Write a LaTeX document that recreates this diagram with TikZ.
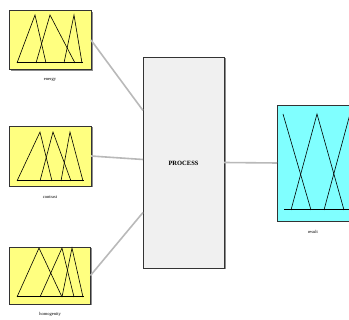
\documentclass[tikz,border=0pt]{standalone}
\usepackage{fontspec}
\setmainfont{Liberation Serif}
\usetikzlibrary{shadows}
\definecolor{mfyellow}{RGB}{255,255,128}
\definecolor{mfcyan}{RGB}{128,255,255}
\definecolor{procgray}{RGB}{240,240,240}
\definecolor{wiregray}{RGB}{185,185,185}
\tikzset{
  varbox/.style={draw=black!80, line width=0.7pt, inner sep=0pt, outer sep=0pt,
    drop shadow={shadow xshift=1.5pt, shadow yshift=-1.5pt, fill=black!45, opacity=1}},
  varlabel/.style={font=\fontsize{4.5}{5}\selectfont, inner sep=0pt},
  wire/.style={draw=wiregray, line width=1.6pt},
  mf/.style={line width=0.6pt},
  mfbase/.style={line width=1pt}
}
\begin{document}
\begin{tikzpicture}[x=1pt,y=-1pt]
    \useasboundingbox (0,0) rectangle (349,320);
    \begin{scope}
        \clip (0,0) rectangle (349,320);
        \node [varbox, fill=mfyellow, minimum width=82pt, minimum height=59pt] (energy) at (50,40) {};
        \node [varbox, fill=mfyellow, minimum width=82pt, minimum height=60pt] (contrast) at (50,156) {};
        \node [varbox, fill=mfyellow, minimum width=81pt, minimum height=57pt] (homog) at (50,275.5) {};
        \node [varbox, fill=procgray, minimum width=81pt, minimum height=211pt] (proc) at (183.5,162.5) {};
        \node [varbox, fill=mfcyan, minimum width=82pt, minimum height=116pt] (result) at (318,163) {};
        % labels
        \node [varlabel] (lenergy) at (50,80) {energy};
        \node [varlabel] (lcontrast) at (50,197) {contrast};
        \node [varlabel] (lhomog) at (50,314) {homogenity};
        \node [varlabel] (lresult) at (313,232) {result};
        \node [font=\fontsize{6.5}{7}\selectfont\bfseries, inner sep=0pt] (lproc) at (183.5,163) {PROCESS};
        % membership functions
        \foreach \a/\b/\c in {17/35/46, 36/50/75, 64/74/82}
            \draw [mf] (\a,63) -- (\b,15) -- (\c,63);
        \draw [mfbase] (17,63) -- (83,63);
        \foreach \a/\b/\c in {17/40/52, 40/53/71, 61/70/83}
            \draw [mf] (\a,181) -- (\b,132) -- (\c,181);
        \draw [mfbase] (17,181) -- (84,181);
        \foreach \a/\b/\c in {17/39/62, 40/62/74, 62/72/83}
            \draw [mf] (\a,297) -- (\b,248) -- (\c,297);
        \draw [mfbase] (17,297) -- (84,297);
        \draw [mf] (283,114) -- (311,210);
        \foreach \a/\b/\c in {291/317/344, 324/350/378}
            \draw [mf] (\a,210) -- (\b,114) -- (\c,210);
        \draw [mfbase] (284,210) -- (360,210);
        % connectors
        \draw [wire] (energy.east) -- ([yshift=52pt]proc.west);
        \draw [wire] (contrast.east) -- ([yshift=3pt]proc.west);
        \draw [wire] (homog.east) -- ([yshift=-50pt]proc.west);
        \draw [wire] (proc.east) -- (result.west);
    \end{scope}
\end{tikzpicture}
\end{document}
